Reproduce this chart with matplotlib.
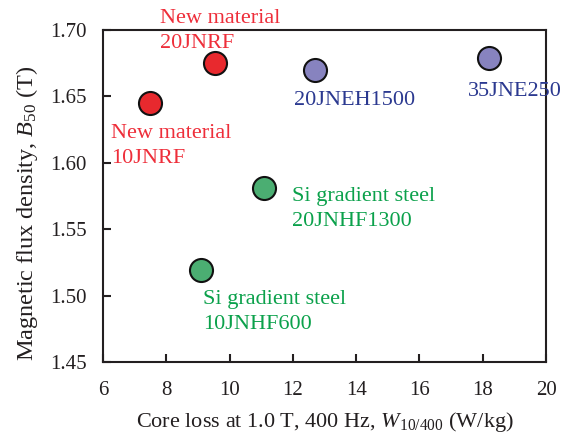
import matplotlib
matplotlib.use("Agg")
import matplotlib.pyplot as plt

# Data
grades = ["New material\n10JNRF", "New material\n20JNRF", "20JNEH1500",
          "35JNE250", "Si gradient steel\n20JNHF1300", "Si gradient steel\n10JNHF600"]
core_loss = [7.5, 9.55, 12.7, 18.2, 11.1, 9.1]
flux_b50 = [1.645, 1.675, 1.670, 1.679, 1.581, 1.519]
groups = ["new", "new", "conv", "conv", "grad", "grad"]

# Styles
fill_colors = {"new": "#E8292E", "conv": "#8783BF", "grad": "#4BAE72"}
text_colors = {"new": "#EE2E3A", "conv": "#2B3990", "grad": "#0BA14B"}
# label offsets from marker centre (pixels, top-left of text)
label_offsets = [(-39, -21), (-55, 54), (-21, -21), (-21, -24), (28, 1), (2, -20)]

plt.rcParams["font.family"] = ["Liberation Serif", "DejaVu Serif"]
plt.rcParams["mathtext.fontset"] = "custom"
plt.rcParams["mathtext.rm"] = "Liberation Serif"
plt.rcParams["mathtext.it"] = "Liberation Serif:italic"
plt.rcParams["font.size"] = 15

fig = plt.figure(figsize=(5.66, 4.36), dpi=100)
ax = fig.add_axes([0.182, 0.1697, 0.7827, 0.7615])

for x, y, g, lab, off in zip(core_loss, flux_b50, groups, grades, label_offsets):
    ax.scatter(x, y, s=275, facecolor=fill_colors[g], edgecolor="#111111",
               linewidth=1.5, zorder=3, clip_on=False)
    ax.annotate(lab, (x, y), xytext=off, textcoords="offset pixels",
                ha="left", va="top", color=text_colors[g], fontsize=16,
                linespacing=1.4, annotation_clip=False)

ax.set_xlim(6, 20)
ax.set_ylim(1.45, 1.70)
ax.set_xticks(range(6, 21, 2))
ax.set_yticks([1.45, 1.50, 1.55, 1.60, 1.65, 1.70])
ax.set_yticklabels(["%.2f" % v for v in ax.get_yticks()])

for sp in ax.spines.values():
    sp.set_linewidth(1.5)
    sp.set_color("#231F20")
ax.tick_params(direction="in", length=6, width=1.5, color="#231F20",
               labelcolor="#231F20", labelsize=15)
ax.tick_params(axis="x", pad=14)
ax.tick_params(axis="y", pad=11.5)

ax.set_xlabel(r"Core loss at 1.0 T, 400 Hz, $\mathit{W}_{\mathrm{10/400}}$ (W/kg)",
              color="#231F20", fontsize=16, labelpad=7)
ax.set_ylabel(r"Magnetic flux density, $\mathit{B}_{\mathrm{50}}$ (T)",
              color="#231F20", fontsize=17.5, va="center")
ax.yaxis.set_label_coords(-0.1716, 0.449)

fig.savefig("out.png", dpi=100)
plt.close()
